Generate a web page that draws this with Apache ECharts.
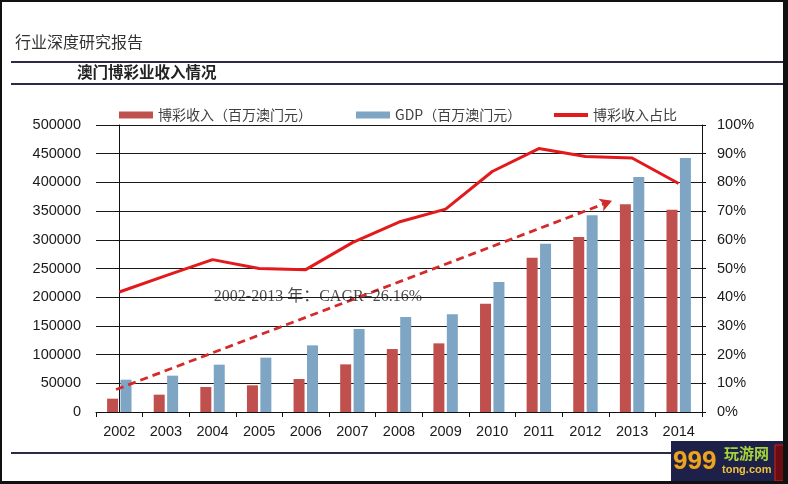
<!DOCTYPE html>
<html>
<head>
<meta charset="utf-8">
<script src="https://cdn.jsdelivr.net/npm/echarts@6/dist/echarts.min.js"></script>
<style>
  html, body { margin: 0; padding: 0; background: #fff; }
  #main { width: 788px; height: 484px; }
</style>
</head>
<body>
<div id="main"></div>
<script>
'use strict';
/* 澳门博彩业收入情况 */

var years = ['2002', '2003', '2004', '2005', '2006', '2007', '2008', '2009', '2010', '2011', '2012', '2013', '2014'];
// 博彩收入（百万澳门元）
var gamingRevenue = [23200, 30200, 43600, 46500, 57500, 83000, 109700, 119600, 188700, 268900, 304900, 361800, 352500];
// GDP（百万澳门元）
var gdp = [56300, 63300, 82500, 94700, 116100, 144600, 165500, 170100, 226500, 293300, 342600, 409400, 442500];
// 博彩收入占比
var gamingShare = [0.418, 0.475, 0.531, 0.500, 0.496, 0.590, 0.662, 0.707, 0.838, 0.918, 0.890, 0.885, 0.796];
// trend arrow, [category position, value]
var arrowFrom = [-0.07, 39100];
var arrowTo = [10.57, 368000];
var cagrText = '2002-2013 年：CAGR=26.16%';
var cagrPos = [4.26, 200000];

var leftTicks = { min: 0, max: 500000, interval: 50000 };
var rightTicks = { min: 0, max: 1, interval: 0.1 };

var navy = '#2b2b48';
var cjk = '"Noto Sans CJK SC", sans-serif';
var sans = '"Liberation Sans", Arial, sans-serif';

var chart = echarts.init(document.getElementById('main'), null, { renderer: 'canvas' });

function legendAt(left, name, h) {
  return {
    left: left,
    top: 103,
    itemWidth: 34,
    itemHeight: h,
    icon: 'rect',
    data: [name],
    textStyle: { fontFamily: cjk, fontSize: 14, color: '#404040' }
  };
}

var option = {
  animation: false,
  backgroundColor: '#fff',
  legend: [
    legendAt(114, '博彩收入（百万澳门元）', 7),
    legendAt(351, 'GDP（百万澳门元）', 7),
    legendAt(549, '博彩收入占比', 4)
  ],
  grid: { left: 96, right: 86, top: 125, bottom: 72 },
  xAxis: [{
    type: 'category',
    data: years,
    axisLine: { lineStyle: { color: '#111', width: 1 } },
    axisTick: { show: true, interval: 0, length: 5, lineStyle: { color: '#111' } },
    axisLabel: { interval: 0, margin: 12, color: '#1a1a1a', fontFamily: sans, fontSize: 14.5 }
  }, {
    type: 'value',
    min: -0.5,
    max: 12.5,
    show: false
  }],
  yAxis: [{
    type: 'value',
    min: leftTicks.min,
    max: leftTicks.max,
    interval: leftTicks.interval,
    axisLine: { show: true, lineStyle: { color: '#111' } },
    axisTick: { show: true, length: 4, lineStyle: { color: '#111' } },
    splitLine: { show: true, lineStyle: { color: '#1a1a1a', width: 1 } },
    axisLabel: {
      margin: 15,
      color: '#1a1a1a',
      fontFamily: sans,
      fontSize: 14.5,
      formatter: function(v) { return String(v); }
    }
  }, {
    type: 'value',
    min: rightTicks.min,
    max: rightTicks.max,
    interval: rightTicks.interval,
    axisLine: { show: true, lineStyle: { color: '#111' } },
    axisTick: { show: true, length: 4, lineStyle: { color: '#111' } },
    splitLine: { show: false },
    axisLabel: {
      margin: 15,
      color: '#1a1a1a',
      fontFamily: sans,
      fontSize: 14.5,
      formatter: function(v) { return Math.round(v * 100) + '%'; }
    }
  }],
  series: [{
    name: '博彩收入（百万澳门元）',
    type: 'bar',
    data: gamingRevenue,
    barWidth: 11,
    barGap: '22%',
    itemStyle: { color: '#c0504d' }
  }, {
    name: 'GDP（百万澳门元）',
    type: 'bar',
    data: gdp,
    barWidth: 11,
    itemStyle: { color: '#7ea6c4' }
  }, {
    name: '博彩收入占比',
    type: 'line',
    yAxisIndex: 1,
    data: gamingShare,
    showSymbol: false,
    symbol: 'none',
    itemStyle: { color: '#e31a1c' },
    lineStyle: { color: '#e31a1c', width: 3 },
    z: 5
  }, {
    // trend arrow + CAGR note, placed on a hidden value x axis
    type: 'scatter',
    xAxisIndex: 1,
    yAxisIndex: 0,
    symbolSize: 0,
    silent: true,
    data: [{
      value: cagrPos,
      label: {
        show: true,
        position: 'inside',
        formatter: cagrText,
        fontFamily: '"Liberation Serif", "Noto Sans CJK SC", serif',
        fontSize: 16,
        color: '#1a1a1a'
      }
    }],
    markLine: {
      silent: true,
      symbol: ['none', 'arrow'],
      symbolSize: [10, 12],
      label: { show: false },
      lineStyle: { color: '#d42a2a', width: 2.8, type: [8, 5] },
      data: [[{ coord: arrowFrom }, { coord: arrowTo }]]
    },
    z: 6
  }],
  graphic: [
    { type: 'text', left: 15, top: 34, style: { text: '行业深度研究报告', font: '16px ' + cjk, fill: '#333' } },
    { type: 'rect', shape: { x: 11, y: 61, width: 777, height: 2 }, style: { fill: navy } },
    { type: 'text', left: 77, top: 64, style: { text: '澳门博彩业收入情况', font: 'bold 15.5px ' + cjk, fill: '#222' } },
    { type: 'rect', shape: { x: 11, y: 83, width: 777, height: 2 }, style: { fill: navy } },
    { type: 'rect', shape: { x: 11, y: 452, width: 662, height: 2 }, style: { fill: navy } },
    // watermark block
    { type: 'rect', shape: { x: 671, y: 441, width: 117, height: 43 }, style: { fill: '#1d2048' } },
    { type: 'text', x: 673, y: 449, style: { text: '999', font: 'bold 26px "Liberation Sans", sans-serif', fill: '#e8a628', stroke: '#5a2a10', lineWidth: 1 } },
    { type: 'text', x: 724, y: 446, style: { text: '玩游网', font: 'bold 15px ' + cjk, fill: '#a6d23c' } },
    { type: 'text', x: 722, y: 464, style: { text: 'tong.com', font: 'bold 11px "Liberation Sans", sans-serif', fill: '#f0c23a' } },
    { type: 'rect', shape: { x: 775, y: 445, width: 9, height: 36 }, style: { fill: '#6a0c10', stroke: '#d02020', lineWidth: 1 } },
    // outer frame
    { type: 'rect', shape: { x: 0, y: 0, width: 788, height: 2 }, style: { fill: '#111' } },
    { type: 'rect', shape: { x: 0, y: 0, width: 2, height: 484 }, style: { fill: '#111' } },
    { type: 'rect', shape: { x: 783, y: 0, width: 5, height: 484 }, style: { fill: '#111' } },
    { type: 'rect', shape: { x: 0, y: 481, width: 788, height: 3 }, style: { fill: '#111' } }
  ]
};

chart.setOption(option);
</script>
</body>
</html>
